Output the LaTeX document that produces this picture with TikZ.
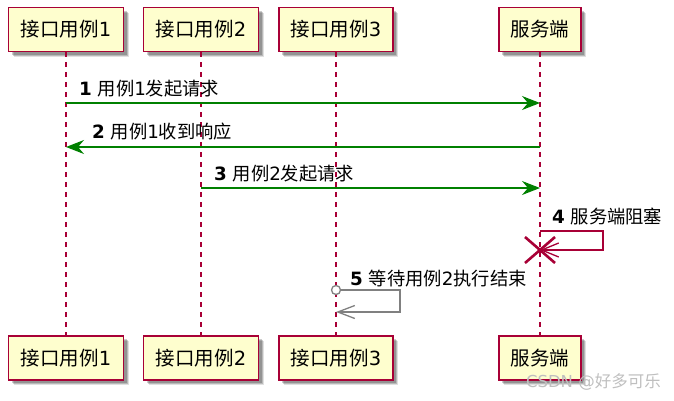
\documentclass[tikz,border=0pt]{standalone}
\usepackage{fontspec}
\setmainfont{DejaVu Sans}
\newfontfamily\cjk{Noto Sans CJK SC}
\usetikzlibrary{arrows.meta,shadows}
\definecolor{pborder}{HTML}{A80036}
\definecolor{pfill}{HTML}{FEFECE}
\definecolor{pgreen}{HTML}{008000}
\definecolor{pgray}{HTML}{808080}
\tikzset{
  pbox/.style={draw=pborder, fill=pfill, line width=1.8pt, minimum height=44pt,
    inner sep=0pt, font=\fontsize{19.5}{23}\selectfont,
    drop shadow={shadow xshift=5pt, shadow yshift=-5pt, opacity=0.12, fill=black},
    drop shadow={shadow xshift=4pt, shadow yshift=-4pt, opacity=0.18, fill=black},
    drop shadow={shadow xshift=3pt, shadow yshift=-3pt, opacity=0.2, fill=black}},
  life/.style={draw=pborder, line width=1.2pt, dash pattern=on 5pt off 5pt},
  msg/.style={draw=pgreen, line width=1.2pt, -{Stealth[length=18pt,width=14pt,inset=6pt]}},
  lbl/.style={anchor=west, inner sep=0pt, font=\fontsize{18.3}{21}\selectfont},
}
\begin{document}
\begin{tikzpicture}[x=1pt,y=-1pt]
\useasboundingbox (0,0) rectangle (674,400);
% participants
\node[pbox, minimum width=115pt] (t1) at (66,29.5) {{\cjk 接口用例}1};
\node[pbox, minimum width=115pt] (t2) at (201,29.5) {{\cjk 接口用例}2};
\node[pbox, minimum width=114pt] (t3) at (336,29.5) {{\cjk 接口用例}3};
\node[pbox, minimum width=82pt] (t4) at (540,29.5) {\cjk 服务端};
\node[pbox, minimum width=115pt] (b1) at (66,358) {{\cjk 接口用例}1};
\node[pbox, minimum width=115pt] (b2) at (201,358) {{\cjk 接口用例}2};
\node[pbox, minimum width=114pt] (b3) at (336,358) {{\cjk 接口用例}3};
\node[pbox, minimum width=82pt] (b4) at (540,358) {\cjk 服务端};
% lifelines
\draw[life] (t1.south) -- (b1.north);
\draw[life] (t2.south) -- (b2.north);
\draw[life] (t3.south) -- (b3.north);
\draw[life] (t4.south) -- (b4.north);
% helper levels
\coordinate (y1) at (0,103);
\coordinate (y2) at (0,147);
\coordinate (y3) at (0,188);
\coordinate (y4a) at (0,231);
\coordinate (y4b) at (0,250);
\coordinate (y5a) at (0,290);
\coordinate (y5b) at (0,312);
% message 1
\draw[msg] (t1 |- y1) -- (t4 |- y1);
\node[lbl] (l1) at (79,89) {\textbf{1} {\cjk 用例}1{\cjk 发起请求}};
% message 2
\draw[msg] (t4 |- y2) -- (t1 |- y2);
\node[lbl] (l2) at (92,132) {\textbf{2} {\cjk 用例}1{\cjk 收到响应}};
% message 3
\draw[msg] (t2 |- y3) -- (t4 |- y3);
\node[lbl] (l3) at (214,174) {\textbf{3} {\cjk 用例}2{\cjk 发起请求}};
% message 4 (self, destroy)
\coordinate (r4a) at (603,231);
\coordinate (r4b) at (603,250);
\coordinate (x4) at (t4 |- y4b);
\draw[draw=pborder, line width=1.3pt, -{Straight Barb[length=17pt,width=14pt]}]
  (t4 |- y4a) -- (r4a) -- (r4b) -- (x4);
\draw[draw=pborder, line width=2.6pt] ([shift={(-15,-13)}]x4) -- ([shift={(15,13)}]x4)
  ([shift={(-15,13)}]x4) -- ([shift={(15,-13)}]x4);
\node[lbl] (l4) at (552,216) {\textbf{4} {\cjk 服务端阻塞}};
% message 5 (self, async circle)
\node[circle, draw=pgray, line width=1.3pt, fill=white, minimum size=9pt, inner sep=0pt] (c5) at (t3 |- y5a) {};
\coordinate (r5a) at (400,290);
\coordinate (r5b) at (400,312);
\draw[draw=pgray, line width=1.3pt, -{Straight Barb[length=17pt,width=13pt]}]
  (c5.east) -- (r5a) -- (r5b) -- (t3 |- y5b);
\node[lbl] (l5) at (350,279) {\textbf{5} {\cjk 等待用例}2{\cjk 执行结束}};
% watermark
\node[anchor=east, inner sep=0pt, text=black!25, font=\fontsize{16.5}{19}\selectfont] (wm) at (661,382) {CSDN @{\cjk 好多可乐}};
\end{tikzpicture}
\end{document}
